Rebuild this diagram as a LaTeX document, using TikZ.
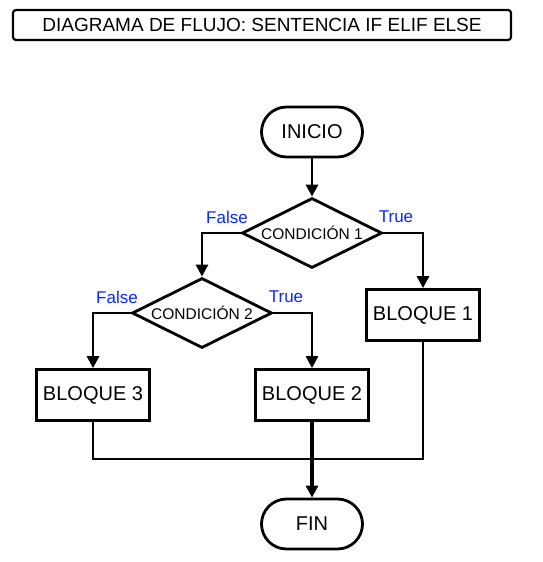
\documentclass[tikz,border=0pt]{standalone}
\usepackage{fontspec}
\setmainfont{Liberation Sans}
\usetikzlibrary{shapes.geometric,arrows.meta}
\definecolor{tfblue}{RGB}{10,40,255}

\begin{document}
\begin{tikzpicture}[x=1pt, y=-1pt, line width=2.8pt,
	title node/.style={rectangle,draw,rounded corners=3pt,line width=2.2pt,minimum width=498pt,minimum height=30pt,inner sep=0pt,font=\fontsize{19}{22}\selectfont},
	start node/.style={rectangle,draw,rounded corners=25pt,minimum width=101pt,minimum height=50pt,font=\fontsize{20}{24}\selectfont},
	block node/.style={rectangle,draw,minimum width=113pt,minimum height=51pt,inner sep=0pt,font=\fontsize{20}{24}\selectfont},
	cond node/.style={diamond,draw,aspect=2,minimum width=140pt,minimum height=70pt,inner sep=0pt,font=\fontsize{15.5}{18}\selectfont},
	tf/.style={text=tfblue,font=\fontsize{17}{20}\selectfont},
	arrow/.style={-{Triangle[length=12pt,width=12pt]}}]

	\useasboundingbox (0,0) rectangle (542,562);

	\node[title node] (title) at (262,25) {DIAGRAMA DE FLUJO: SENTENCIA IF ELIF ELSE};

	\node[start node] (inicio) at (312,132) {INICIO};
	\node[cond node] (cond1) at (312,233) {CONDICIÓN 1};
	\node[cond node] (cond2) at (202,313) {CONDICIÓN 2};
	\node[block node] (bloque1) at (423,315) {BLOQUE 1};
	\node[block node] (bloque2) at (312,395) {BLOQUE 2};
	\node[block node] (bloque3) at (93,395) {BLOQUE 3};
	\node[start node] (fin) at (312,524) {FIN};
	\coordinate (merge) at (312,459);

	\node[tf] (false1) at (227,217) {False};
	\node[tf] (true1) at (396,217) {True};
	\node[tf] (false2) at (117,297) {False};
	\node[tf] (true2) at (286,297) {True};

	\draw[arrow] (inicio) -- (cond1);
	\draw[arrow] (cond1.west) -| (cond2.north);
	\draw[arrow] (cond1.east) -| (bloque1.north);
	\draw[arrow] (cond2.west) -| (bloque3.north);
	\draw[arrow] (cond2.east) -| (bloque2.north);
	\draw (bloque3) |- (merge);
	\draw (bloque1) |- (merge);
	\draw[arrow,line width=3.4pt] (bloque2) -- (fin);

\end{tikzpicture}
\end{document}
